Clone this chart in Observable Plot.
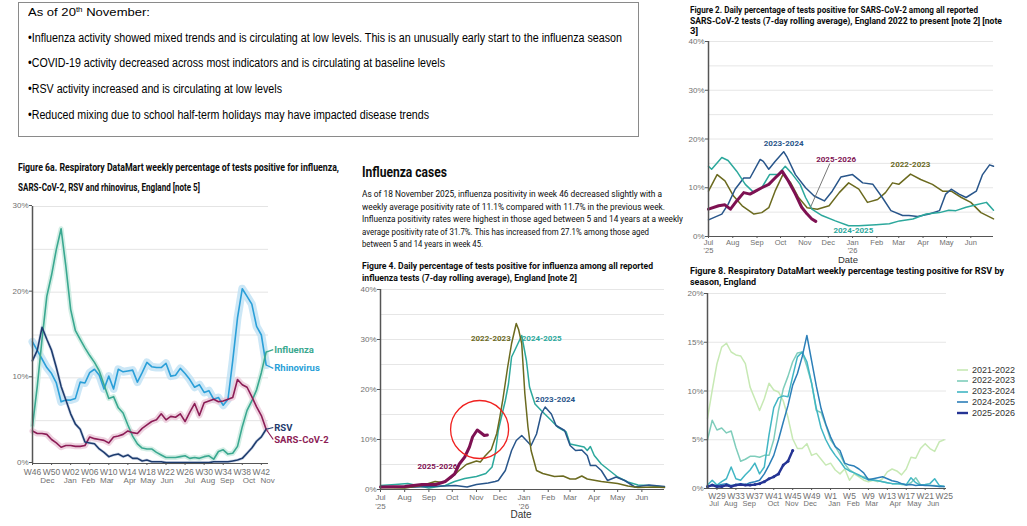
<!DOCTYPE html>
<html><head><meta charset="utf-8">
<script src="https://cdn.jsdelivr.net/npm/d3@7"></script>
<script src="https://cdn.jsdelivr.net/npm/@observablehq/plot@0.6"></script>
<style>
html,body{margin:0;padding:0;background:#fff;}
body{width:1027px;height:526px;position:relative;overflow:hidden;font-family:Roboto,"Liberation Sans",sans-serif;}
.t{position:absolute;white-space:nowrap;line-height:1;transform-origin:0 50%;}
.chart{position:absolute;}
</style></head><body>
<div style="position:absolute;left:18px;top:2px;width:619px;height:133px;border:1.5px solid #8a8a8a;"></div>
<script>
// ---------------- DATA ----------------
// Figure 6a: weekly % positive, week index 0 = W46 (2024) ... 49 = W43 (2025)
const weekTickIdx6a = [0,4,8,12,16,20,24,28,32,36,40,44,48];
const weekLabels6a = ["W46","W50","W02","W06","W10","W14","W18","W22","W26","W30","W34","W38","W42"];
const monthTickIdx6a = [3.1,7.9,11.7,15.6,20.4,24.2,28.2,33,36.8,40.8,45.4,49.3];
const monthLabels6a = ["Dec","Jan","Feb","Mar","Apr","May","Jun","Jul","Aug","Sep","Oct","Nov"];
const influenza6a = [4.4,9,14.5,19.5,22,25,27.4,23,18,15.5,14.5,13.5,12.6,11.8,10.8,9.2,7.6,7.8,6.5,5.9,4.5,3.2,2.3,1.8,1.7,1.7,1.3,1.0,0.7,0.7,0.7,0.8,0.9,0.6,0.7,0.6,0.8,0.9,0.5,1.4,1.6,1.1,1.2,2.0,4.3,6.2,7.3,8.6,10.6,13.0];
const rhinovirus6a = [14.2,13.2,12.2,11.2,10.5,9.4,7.2,7.4,7.4,7.6,9.5,9.4,10.6,11.0,10.3,8.7,10.2,8.7,11.0,10.7,10.8,10.9,9.5,10.6,11.8,11.3,11.2,11.2,11.7,10.2,10.3,11.1,10.5,9.8,8.9,9.2,8.3,8.5,7.5,7.7,6.8,7.5,12,17,20.4,19.5,18.6,16,15,11.5];
const rsv6a = [12,13.2,15.9,14.5,13.2,11.2,9.0,7.4,5.8,4.6,4.0,2.5,2.4,2.3,1.7,1.3,0.8,1.0,1.1,0.8,1.0,0.6,0.6,0.3,0.4,0.2,0.2,0.2,0.1,0.1,0.1,0.1,0.1,0.1,0.1,0.1,0.1,0.1,0.2,0.2,0.2,0.2,0.3,0.4,0.6,1.2,1.8,2.6,3.1,4.0];
const sarscov2_6a = [3.8,3.5,3.5,3.4,2.8,2.4,1.9,2.1,2.1,2.0,2.0,2.1,3.1,2.9,2.8,2.7,2.4,3.1,3.2,3.4,3.8,3.6,3.5,4.1,4.5,4.9,5.1,5.8,5.1,5.5,5.4,5.8,4.9,6.0,7.0,5.6,7.1,7.3,7.5,7.2,7.3,7.5,7.7,9.8,9.2,8.9,7.8,6.6,5.6,4.0];
const names6a = ["Influenza","Rhinovirus","RSV","SARS-CoV-2"];
const labelY6a = [13.3,11.1,4.2,2.8];

// Figure 4: daily influenza positivity (7-day avg), dates on a Jul 2025 - Jun 2026 axis
const seasons = ["2022-2023","2023-2024","2024-2025","2025-2026"];
const flu2223 = [["2025-07-01",0.4],["2025-08-01",0.3],["2025-08-23",0.8],["2025-09-09",1.6],["2025-09-19",1.4],["2025-09-30",2.4],["2025-10-09",3.7],["2025-10-19",5.0],["2025-11-01",5.7],["2025-11-06",5.5],["2025-11-12",6.7],["2025-11-20",8.0],["2025-11-27",11.2],["2025-12-01",14.5],["2025-12-05",18.2],["2025-12-11",24.5],["2025-12-16",29.2],["2025-12-22",33.2],["2025-12-25",32],["2025-12-29",29.2],["2026-01-02",19.2],["2026-01-06",12.5],["2026-01-10",7.8],["2026-01-17",3.8],["2026-01-25",3.2],["2026-02-09",2.6],["2026-02-20",2.7],["2026-03-01",2.1],["2026-03-08",2.1],["2026-03-16",2.7],["2026-03-23",2.1],["2026-04-10",1.6],["2026-05-01",1.2],["2026-05-14",0.7],["2026-05-27",0.4],["2026-06-17",0.5],["2026-06-30",0.4]];
const flu2324 = [["2025-07-01",0.5],["2025-08-01",0.4],["2025-09-01",0.6],["2025-09-20",0.7],["2025-10-05",0.8],["2025-10-20",0.5],["2025-11-01",1.0],["2025-11-16",1.3],["2025-11-25",1.6],["2025-11-29",1.8],["2025-12-08",3.8],["2025-12-16",7.8],["2025-12-22",9.8],["2025-12-29",10.8],["2026-01-04",9.8],["2026-01-10",8.8],["2026-01-17",11.1],["2026-01-23",15.1],["2026-01-28",16.5],["2026-02-05",15.1],["2026-02-11",12.8],["2026-02-22",11.8],["2026-03-01",8.8],["2026-03-08",7.8],["2026-03-16",7.9],["2026-03-23",6.8],["2026-03-27",4.8],["2026-04-03",4.8],["2026-04-10",3.8],["2026-04-18",1.8],["2026-04-29",2.5],["2026-05-10",1.8],["2026-05-23",0.5],["2026-06-10",0.9],["2026-06-30",0.6]];
const flu2425 = [["2025-07-01",0.8],["2025-07-20",1.0],["2025-08-05",1.2],["2025-08-23",0.6],["2025-09-01",0.3],["2025-09-22",0.8],["2025-10-04",1.6],["2025-10-17",2.2],["2025-11-01",2.6],["2025-11-13",3.2],["2025-11-21",4.5],["2025-11-25",7.1],["2025-11-29",11.8],["2025-12-03",14.5],["2025-12-08",17.8],["2025-12-12",21.1],["2025-12-16",26.5],["2025-12-20",27.8],["2025-12-29",30.8],["2026-01-04",25.8],["2026-01-08",20.5],["2026-01-15",17.1],["2026-01-23",15.8],["2026-02-05",13.8],["2026-02-13",12.5],["2026-02-24",11.5],["2026-03-01",9.1],["2026-03-10",8.8],["2026-03-19",8.5],["2026-03-23",7.8],["2026-03-27",8.6],["2026-04-01",6.8],["2026-04-10",5.1],["2026-04-18",4.1],["2026-05-01",2.5],["2026-05-14",1.5],["2026-05-27",0.9],["2026-06-10",0.8],["2026-06-30",0.5]];
const flu2526 = [["2025-07-01",0.5],["2025-08-01",0.6],["2025-08-23",1.0],["2025-09-10",1.0],["2025-09-22",1.6],["2025-09-30",2.6],["2025-10-04",3.1],["2025-10-10",5.1],["2025-10-17",6.5],["2025-10-23",8.5],["2025-10-27",10.5],["2025-11-02",11.9],["2025-11-07",11.3],["2025-11-11",10.8],["2025-11-15",10.9]];
const fluLabels = [["2022-2023","2025-12-15",30.2,"end"],["2024-2025","2025-12-29",30.2,"start"],["2023-2024","2026-02-10",18,"middle"],["2025-2026","2025-09-12",4.6,"middle"]];
const fluCircle = [["2025-11-05",12]];

// Figure 2: SARS-CoV-2 daily positivity
const cov2223 = [["2025-07-01",9.3],["2025-07-12",12.7],["2025-07-22",11.4],["2025-08-02",8.3],["2025-08-13",6.3],["2025-08-28",4.6],["2025-09-07",4.9],["2025-09-16",5.9],["2025-09-24",9.3],["2025-10-04",12.7],["2025-10-14",11.0],["2025-10-24",8.0],["2025-11-04",5.9],["2025-11-17",5.6],["2025-12-02",6.3],["2025-12-15",9.0],["2025-12-27",11.0],["2026-01-09",9.7],["2026-01-20",7.0],["2026-02-02",7.6],["2026-02-12",9.0],["2026-02-21",11.0],["2026-03-01",10.7],["2026-03-16",12.8],["2026-03-29",11.7],["2026-04-13",10.7],["2026-04-26",9.3],["2026-05-07",9.3],["2026-05-20",8.0],["2026-06-01",7.0],["2026-06-14",4.9],["2026-06-30",3.6]];
const cov2324 = [["2025-07-01",3.4],["2025-07-18",4.6],["2025-07-26",6.6],["2025-08-04",9.7],["2025-08-15",12.0],["2025-08-23",12.0],["2025-09-05",15.8],["2025-09-09",15.4],["2025-09-16",13.8],["2025-09-24",15.4],["2025-10-05",17.4],["2025-10-09",16.4],["2025-10-20",12.7],["2025-11-02",10.0],["2025-11-13",8.3],["2025-11-26",7.3],["2025-12-06",9.3],["2025-12-17",12.2],["2026-01-01",12.7],["2026-01-14",11.0],["2026-01-27",10.7],["2026-02-08",8.0],["2026-02-19",5.3],["2026-03-06",4.3],["2026-03-14",4.3],["2026-03-25",4.1],["2026-04-09",4.6],["2026-04-22",5.3],["2026-04-30",8.7],["2026-05-07",9.7],["2026-05-17",8.7],["2026-05-26",8.0],["2026-06-08",9.3],["2026-06-16",12.7],["2026-06-25",14.7],["2026-06-30",14.4]];
const cov2425 = [["2025-07-01",14.4],["2025-07-05",13.8],["2025-07-18",16.2],["2025-07-26",15.6],["2025-08-06",13.4],["2025-08-17",10.7],["2025-08-28",9.0],["2025-09-07",10.0],["2025-09-17",12.7],["2025-09-28",12.7],["2025-10-07",14.4],["2025-10-15",13.0],["2025-10-26",10.7],["2025-11-02",8.0],["2025-11-10",5.6],["2025-11-23",4.3],["2025-12-10",3.2],["2025-12-27",2.2],["2026-01-09",2.2],["2026-01-31",2.4],["2026-02-17",2.6],["2026-03-02",3.2],["2026-03-19",3.6],["2026-04-05",4.6],["2026-04-22",4.9],["2026-05-04",5.4],["2026-05-13",5.3],["2026-05-26",6.0],["2026-06-08",6.5],["2026-06-21",7.0],["2026-06-30",5.4]];
const cov2526 = [["2025-07-01",5.6],["2025-07-14",6.3],["2025-07-22",6.5],["2025-07-29",5.6],["2025-08-06",7.3],["2025-08-15",9.0],["2025-08-23",8.7],["2025-08-30",9.3],["2025-09-07",10.0],["2025-09-16",10.7],["2025-09-24",12.0],["2025-10-03",13.4],["2025-10-11",11.4],["2025-10-20",8.7],["2025-10-28",6.0],["2025-11-04",4.6],["2025-11-10",3.6],["2025-11-15",3.1]];
const covLabels = [["2023-2024","2025-10-05",19.1],["2025-2026","2025-12-11",15.8],["2022-2023","2026-03-16",14.8],["2024-2025","2026-01-02",1.2]];
const covLeader = [["2025-11-08",5.9,"2025-12-03",15]];

const monthTicks = ["2025-07-01","2025-08-01","2025-09-01","2025-10-01","2025-11-01","2025-12-01","2026-01-01","2026-02-01","2026-03-01","2026-04-01","2026-05-01","2026-06-01"];
const monthTickLabels = ["Jul\n'25","Aug","Sep","Oct","Nov","Dec","Jan\n'26","Feb","Mar","Apr","May","Jun"];

// Figure 8: RSV weekly % positive by season, index 0 = W27 ... 50 = W25
const weekTickIdx8 = [2,6,10,14,18,22,26,30,34,38,42,46,50];
const weekLabels8 = ["W29","W33","W37","W41","W45","W49","W1","W5","W9","W13","W17","W21","W25"];
const monthTickIdx8 = [1.4,4.9,8.8,13.9,17.8,21.7,26.8,30.8,34.7,39.7,43.7,47.7];
const monthLabels8 = ["Jul","Aug","Sep","Oct","Nov","Dec","Jan","Feb","Mar","Apr","May","Jun"];
const rsv2122 = [7.2,10.1,12.8,14.5,14.9,14.0,13.7,13.6,12.8,10.4,9.2,8.0,9.2,10.8,10.1,9.9,9.0,7.3,5.1,4.1,4.1,4.6,3.4,3.6,3.0,2.4,2.6,1.9,1.5,2.0,0.85,1.5,1.2,0.85,0.7,0.85,0.7,1.0,1.7,2.0,1.8,1.4,2.0,3.2,3.1,4.1,4.6,4.1,3.8,4.8,5.0];
const rsv2223 = [5.0,7.0,6.0,6.2,5.7,5.9,4.2,2.8,3.0,3.3,3.3,3.2,3.4,3.4,5.0,8.0,10.2,11.5,13.0,13.9,14.0,12.5,10.8,8.0,7.8,6.5,5.0,4.3,3.5,2.5,1.9,1.6,1.3,1.2,1.0,0.9,0.8,0.7,0.6,0.5,0.5,0.4,0.35,0.6,1.1,0.4,0.35,0.3,0.3,0.2,0.2];
const rsv2324 = [0.35,0.85,0.35,0.7,1.0,2.2,1.0,0.85,1.4,1.9,2.6,1.5,2.2,5.5,8.3,9.3,9.5,9.4,11.5,13.5,14.0,13.0,10.8,8.2,6.2,5.0,4.1,3.4,2.8,2.1,1.8,1.6,1.4,1.1,0.9,0.85,0.8,0.7,0.6,0.5,0.5,0.5,0.4,1.1,0.6,0.35,0.4,0.5,1.0,0.3,0.2];
const rsv2425 = [0.2,0.35,0.3,0.4,0.5,0.3,0.4,0.5,0.4,0.6,0.7,0.85,1.5,2.4,3.4,5.0,6.8,8.5,10.6,11.8,13.5,15.7,13.1,10.5,8.2,6.6,5.3,4.3,3.9,2.6,2.4,2.3,2.0,1.6,0.9,1.0,1.1,1.2,1.0,0.8,0.7,0.5,0.35,0.4,0.3,0.35,0.3,0.3,0.25,0.2,0.2];
const rsv2526 = [0.2,0.35,0.2,0.2,0.35,0.2,0.35,0.4,0.35,0.35,0.4,0.5,0.7,1.0,1.2,1.5,2.4,2.8,3.9];
const rsvSeasons = ["2021-2022","2022-2023","2023-2024","2024-2025","2025-2026"];

// ---------------- HELPERS ----------------
const FONT = "'Liberation Sans', Arial, sans-serif";
const GDS = "Roboto, 'Noto Sans', sans-serif";
function txt(html, x, cy, size, o = {}) {
  const el = document.createElement("div");
  el.className = "t";
  el.innerHTML = html;
  el.style.left = x + "px";
  el.style.top = (cy - size / 2) + "px";
  el.style.fontSize = size + "px";
  el.style.height = size + "px";
  el.style.fontFamily = o.font || GDS;
  el.style.fontWeight = o.bold ? "700" : "400";
  el.style.color = o.color || "#0b0c0c";
  if (o.anchor === "middle") el.style.transformOrigin = "50% 50%";
  document.body.appendChild(el);
  if (o.anchor === "middle") {
    const w0 = el.getBoundingClientRect().width;
    el.style.left = (x - w0 / 2) + "px";
  }
  if (o.w) {
    const w = el.getBoundingClientRect().width;
    el.style.transform = `scaleX(${o.w / w})`;
  }
  return el;
}
function place(svg, left, top) {
  const wrap = document.createElement("div");
  wrap.className = "chart";
  wrap.style.left = left + "px";
  wrap.style.top = top + "px";
  wrap.appendChild(svg);
  document.body.appendChild(wrap);
}
const pstyle = {fontFamily: FONT, fontSize: "8px", color: "#707070", background: "transparent", overflow: "visible"};
const toRows = (arr) => arr.map(([d, v]) => ({date: new Date(d), value: v}));
const idxRows = (vals) => vals.map((v, i) => ({i, v}));
const fmtMonth = (d) => monthTickLabels[monthTicks.map(s => +new Date(s)).indexOf(+d)];

// ---------------- TEXT ----------------
const BOX = {font: FONT, color: "#000"};
txt("As of 20<span style=\"font-size:7px;position:relative;top:-4px\">th</span> November:", 28, 13, 11.5, {...BOX, w: 122});
txt("•Influenza activity showed mixed trends and is circulating at low levels. This is an unusually early start to the influenza season", 28, 38, 12, {...BOX, w: 594});
txt("•COVID-19 activity decreased across most indicators and is circulating at baseline levels", 28, 63, 12, {...BOX, w: 417});
txt("•RSV activity increased and is circulating at low levels", 28, 89, 12, {...BOX, w: 254});
txt("•Reduced mixing due to school half-term holidays may have impacted disease trends", 28, 115, 12, {...BOX, w: 401});

txt("Figure 6a. Respiratory DataMart weekly percentage of tests positive for influenza,", 18, 167, 11, {bold: true, w: 321});
txt("SARS-CoV-2, RSV and rhinovirus, England [note 5]", 18, 187, 11, {bold: true, w: 182});

txt("Influenza cases", 362, 172, 14, {bold: true, w: 85});
txt("As of 18 November 2025, influenza positivity in week 46 decreased slightly with a", 362, 194, 9.5, {w: 300});
txt("weekly average positivity rate of 11.1% compared with 11.7% in the previous week.", 362, 206.5, 9.5, {w: 303});
txt("Influenza positivity rates were highest in those aged between 5 and 14 years at a weekly", 362, 219, 9.5, {w: 321});
txt("average positivity rate of 31.7%. This has increased from 27.1% among those aged", 362, 231.5, 9.5, {w: 287});
txt("between 5 and 14 years in week 45.", 362, 244, 9.5, {w: 121});
txt("Figure 4. Daily percentage of tests positive for influenza among all reported", 362, 266, 9.5, {bold: true, w: 291});
txt("influenza tests (7-day rolling average), England [note 2]", 362, 278, 9.5, {bold: true, w: 215});

txt("Figure 2. Daily percentage of tests positive for SARS-CoV-2 among all reported", 690, 9.5, 9.5, {bold: true, w: 288});
txt("SARS-CoV-2 tests (7-day rolling average), England 2022 to present [note 2] [note", 690, 20.5, 9.5, {bold: true, w: 312});
txt("3]", 690, 30.5, 9.5, {bold: true});
txt("Figure 8. Respiratory DataMart weekly percentage testing positive for RSV by", 690, 270.5, 9.5, {bold: true, w: 314});
txt("season, England", 690, 281.5, 9.5, {bold: true, w: 66});

// ---------------- FIGURE 6a ----------------
{
  const s6a = [
    {name: "Rhinovirus", vals: rhinovirus6a, color: "#2a9fd8", band: "#bfe1f4", bw: 8},
    {name: "Influenza", vals: influenza6a, color: "#3aa890", band: "#c8eadf", bw: 5},
    {name: "SARS-CoV-2", vals: sarscov2_6a, color: "#8c1d56", band: "#eac8d8", bw: 6},
    {name: "RSV", vals: rsv6a, color: "#1e3c6e", band: "#ccd5e6", bw: 3}
  ];
  const colorOf = Object.fromEntries(s6a.map(s => [s.name, s.color]));
  const valsOf = {Influenza: influenza6a, Rhinovirus: rhinovirus6a, RSV: rsv6a, "SARS-CoV-2": sarscov2_6a};
  const lab = names6a.map((n, k) => ({name: n, y: labelY6a[k], yEnd: valsOf[n][valsOf[n].length - 1], xEnd: valsOf[n].length - 1}));
  const svg = Plot.plot({
    width: 345, height: 300,
    marginLeft: 32, marginRight: 77, marginTop: 11, marginBottom: 32,
    style: pstyle,
    x: {domain: [0, 49.5], label: null},
    y: {domain: [0, 30], label: null},
    marks: [
      Plot.gridY([5, 10, 15, 20, 25, 30], {stroke: "#e4e4e4", strokeOpacity: 1}),
      ...s6a.map(s => Plot.line(idxRows(s.vals), {x: "i", y: "v", stroke: s.band, strokeWidth: s.bw, strokeOpacity: 0.8})),
      ...s6a.map(s => Plot.line(idxRows(s.vals), {x: "i", y: "v", stroke: s.color, strokeWidth: 1.6})),
      Plot.ruleX([0], {stroke: "#555", strokeWidth: 1.5}),
      Plot.ruleY([0], {stroke: "#555", strokeWidth: 1.2}),
      Plot.axisY({ticks: [0, 10, 20, 30], tickFormat: d => d + "%", tickSize: 3, tickPadding: 1, stroke: "#555", label: null, dy: -1}),
      Plot.axisX({ticks: weekTickIdx6a, tickFormat: d => weekLabels6a[weekTickIdx6a.indexOf(d)], tickSize: 2, tickPadding: 3, fontSize: 8.5, stroke: "#555", label: null}),
      Plot.axisX({ticks: monthTickIdx6a, tickFormat: d => monthLabels6a[monthTickIdx6a.indexOf(d)], tickSize: 0, tickPadding: 14, fontSize: 8, label: null}),
      Plot.link(lab, {x1: "xEnd", y1: "yEnd", x2: () => 50.5, y2: "y", stroke: d => colorOf[d.name], strokeWidth: 1.2}),
      Plot.text(lab, {x: () => 50.5, y: "y", text: "name", fill: d => colorOf[d.name], textAnchor: "start", dx: 1, fontWeight: "bold", fontSize: 9.5, fontFamily: GDS})
    ]
  });
  place(svg, 0, 195);
}

// ---------------- FIGURE 4 ----------------
const seasonColors = {"2022-2023": "#6b6a1f", "2023-2024": "#28558a", "2024-2025": "#2ca89c", "2025-2026": "#7e1152"};
{
  const series = [["2024-2025", flu2425], ["2023-2024", flu2324], ["2022-2023", flu2223], ["2025-2026", flu2526]];
  const labRows = fluLabels.map(([n, d, v, a]) => ({n, date: new Date(d), value: v, a}));
  const svg = Plot.plot({
    width: 330, height: 240,
    marginLeft: 25, marginRight: 21, marginTop: 6, marginBottom: 34,
    style: pstyle,
    x: {type: "utc", domain: [new Date("2025-07-01"), new Date("2026-06-30")], label: null},
    y: {domain: [0, 40], label: null},
    marks: [
      Plot.gridY([5, 10, 15, 20, 25, 30, 35, 40], {stroke: "#e6e6e6", strokeOpacity: 1}),
      ...series.map(([n, d]) => Plot.line(toRows(d), {x: "date", y: "value", stroke: seasonColors[n], strokeWidth: n === "2025-2026" ? 3 : 1.5})),
      Plot.dot(fluCircle.map(([d, v]) => ({date: new Date(d), value: v})), {x: "date", y: "value", r: 29, stroke: "#f0211f", strokeWidth: 1.3, fill: "none"}),
      ...["start", "middle", "end"].map(a => Plot.text(labRows.filter(d => d.a === a), {x: "date", y: "value", text: "n", fill: d => seasonColors[d.n], textAnchor: a, fontSize: 8, fontWeight: "bold", fontFamily: GDS})),
      Plot.ruleX([new Date("2025-07-01")], {stroke: "#555", strokeWidth: 1.5}),
      Plot.ruleY([0], {stroke: "#555", strokeWidth: 1.2}),
      Plot.axisY({ticks: [0, 10, 20, 30, 40], tickFormat: d => d + "%", tickSize: 3, tickPadding: 1, stroke: "#555", label: null}),
      Plot.axisX({ticks: monthTicks.map(s => new Date(s)), tickFormat: fmtMonth, tickSize: 3, tickPadding: 2, fontSize: 8, stroke: "#555", lineHeight: 1.05, label: null})
    ]
  });
  place(svg, 355, 283);
  txt("Date", 521, 515, 10, {font: FONT, color: "#333", anchor: "middle"});
}

// ---------------- FIGURE 2 ----------------
{
  const series = [["2022-2023", cov2223], ["2023-2024", cov2324], ["2024-2025", cov2425], ["2025-2026", cov2526]];
  const labs = covLabels.map(([n, d, v]) => ({n, date: new Date(d), value: v}));
  const lead = covLeader.map(([d1, v1, d2, v2]) => ({d1: new Date(d1), v1, d2: new Date(d2), v2}));
  const svg = Plot.plot({
    width: 342, height: 230,
    marginLeft: 23, marginRight: 34, marginTop: 5, marginBottom: 30,
    style: pstyle,
    x: {type: "utc", domain: [new Date("2025-07-01"), new Date("2026-06-30")], label: null},
    y: {domain: [0, 40], label: null},
    marks: [
      Plot.gridY([5, 10, 15, 20, 25, 30, 35, 40], {stroke: "#e6e6e6", strokeOpacity: 1}),
      ...series.map(([n, d]) => Plot.line(toRows(d), {x: "date", y: "value", stroke: seasonColors[n], strokeWidth: n === "2025-2026" ? 3 : 1.5})),
      Plot.link(lead, {x1: "d1", y1: "v1", x2: "d2", y2: "v2", stroke: "#777", strokeWidth: 1}),
      Plot.text(labs, {x: "date", y: "value", text: "n", fill: d => seasonColors[d.n], fontSize: 8, fontWeight: "bold", fontFamily: GDS}),
      Plot.ruleX([new Date("2025-07-01")], {stroke: "#555", strokeWidth: 1.5}),
      Plot.ruleY([0], {stroke: "#555", strokeWidth: 1.2}),
      Plot.axisY({ticks: [0, 10, 20, 30, 40], tickFormat: d => d + "%", tickSize: 3, tickPadding: 1, stroke: "#555", label: null}),
      Plot.axisX({ticks: monthTicks.map(s => new Date(s)), tickFormat: fmtMonth, tickSize: 2, tickPadding: 1, fontSize: 7.5, stroke: "#555", lineHeight: 1.05, label: null})
    ]
  });
  place(svg, 685, 36);
  txt("Date", 848, 260, 9.5, {font: FONT, color: "#333", anchor: "middle"});
}

// ---------------- FIGURE 8 ----------------
{
  const colors8 = ["#c7e9b4", "#7fcdbb", "#41b6c4", "#2c7fb8", "#253494"];
  const data8 = [rsv2122, rsv2223, rsv2324, rsv2425, rsv2526];
  const svg = Plot.plot({
    width: 342, height: 230,
    marginLeft: 22, marginRight: 81, marginTop: 5, marginBottom: 30,
    style: pstyle,
    x: {domain: [0, 50.5], label: null},
    y: {domain: [0, 20], label: null},
    marks: [
      Plot.gridY([5, 10, 15, 20], {stroke: "#e6e6e6", strokeOpacity: 1}),
      ...data8.map((d, k) => Plot.line(idxRows(d), {x: "i", y: "v", stroke: colors8[k], strokeWidth: k === 4 ? 2.4 : 1.5})),
      Plot.dot(idxRows(rsv2526), {x: "i", y: "v", r: 1.5, fill: colors8[4]}),
      Plot.ruleX([0], {stroke: "#555", strokeWidth: 1.5}),
      Plot.ruleY([0], {stroke: "#555", strokeWidth: 1.2}),
      Plot.axisY({ticks: [0, 5, 10, 15, 20], tickFormat: d => d + "%", tickSize: 3, tickPadding: 1, stroke: "#555", label: null}),
      Plot.axisX({ticks: weekTickIdx8, tickFormat: d => weekLabels8[weekTickIdx8.indexOf(d)], tickSize: 2, tickPadding: 2, fontSize: 8.5, stroke: "#555", label: null}),
      Plot.axisX({ticks: monthTickIdx8, tickFormat: d => monthLabels8[monthTickIdx8.indexOf(d)], tickSize: 0, tickPadding: 12, fontSize: 7.5, label: null})
    ]
  });
  place(svg, 685, 288);
  // legend
  rsvSeasons.forEach((s, k) => {
    const cy = 370 + k * 10.8;
    const sw = document.createElementNS("http://www.w3.org/2000/svg", "svg");
    sw.setAttribute("width", 12); sw.setAttribute("height", 6);
    sw.style.position = "absolute"; sw.style.left = "957px"; sw.style.top = (cy - 3) + "px";
    sw.innerHTML = `<line x1="0" y1="3" x2="11" y2="3" stroke="${colors8[k]}" stroke-width="${k === 4 ? 2.4 : 1.6}"/>`;
    document.body.appendChild(sw);
    txt(s, 972, cy, 9, {font: FONT, color: "#333"});
  });
}
</script>
</body></html>
